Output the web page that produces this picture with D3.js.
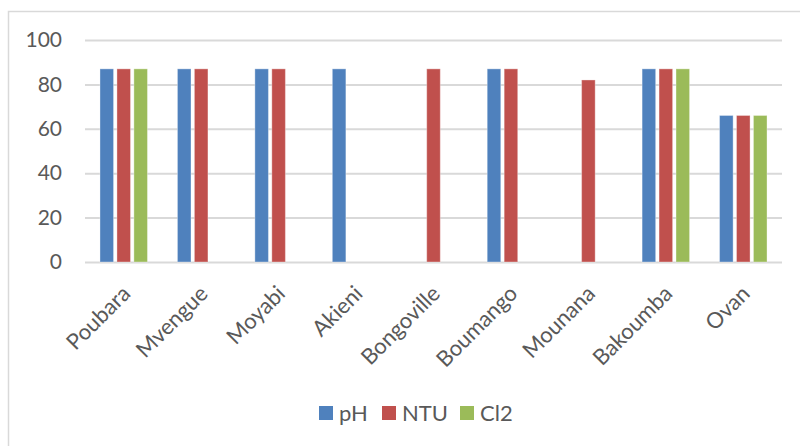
<!DOCTYPE html>
<html><head><meta charset="utf-8">
<script src="https://cdn.jsdelivr.net/npm/d3@7"></script>
<style>html,body{margin:0;padding:0;background:#fff;overflow:hidden}</style>
</head><body>
<svg id="chart" width="800" height="446"></svg>
<script>
const categories = ["Poubara","Mvengue","Moyabi","Akieni","Bongoville","Boumango","Mounana","Bakoumba","Ovan"];
const seriesNames = ["pH","NTU","Cl2"];
const phValues  = [87, 87, 87, 87, null, 87, null, 87, 66];
const ntuValues = [87, 87, 87, null, 87, 87, 82, 87, 66];
const cl2Values = [87, null, null, null, null, null, null, 87, 66];
const yTicks = [0, 20, 40, 60, 80, 100];
const colors = ["#4F81BD", "#C0504D", "#9BBB59"];

(function () {
const seriesValues = [phValues, ntuValues, cl2Values];
const svg = d3.select("#chart");
const font = "Lato, 'Open Sans', sans-serif";
const textColor = "#595959";

// outer border
svg.append("rect").attr("x", 8.5).attr("y", 11.5).attr("width", 820).attr("height", 460)
  .attr("fill", "none").attr("stroke", "#d9d9d9").attr("stroke-width", 1.5);

const mLeft = 85, mRight = 782, mTop = 40, mBottom = 262;
const x0 = d3.scaleBand().domain(categories).range([mLeft, mRight]).paddingInner(0.387).paddingOuter(0.1935);
const x1 = d3.scaleBand().domain(seriesNames).range([0, x0.bandwidth()]).paddingInner(0.2);
const y = d3.scaleLinear().domain([0, 100]).range([mBottom, mTop]);

// gridlines
const yAxis = d3.axisLeft(y).tickValues(yTicks).tickSize(-(mRight - mLeft)).tickPadding(23);
const gy = svg.append("g").attr("transform", `translate(${mLeft},0)`).call(yAxis);
gy.select(".domain").remove();
gy.selectAll(".tick line").attr("stroke", "#d9d9d9").attr("stroke-width", 2);
gy.selectAll(".tick text").attr("fill", textColor).attr("font-family", font).attr("font-size", 21);

// bars
const groups = svg.append("g").selectAll("g").data(categories).join("g")
  .attr("transform", d => `translate(${x0(d)},0)`);
groups.each(function(cat, i) {
  const data = seriesNames.map((s, j) => ({s, j, v: seriesValues[j][i]})).filter(d => d.v != null);
  d3.select(this).selectAll("rect").data(data).join("rect")
    .attr("x", d => x1(d.s))
    .attr("width", x1.bandwidth())
    .attr("y", d => y(d.v))
    .attr("height", d => y(0) - y(d.v))
    .attr("fill", d => colors[d.j])
    .attr("stroke", "rgba(255,255,255,0.35)")
    .attr("stroke-width", 1);
});

// x axis labels
const xAxis = d3.axisBottom(x0).tickSize(0).tickPadding(0);
const gx = svg.append("g").attr("transform", `translate(0,${mBottom})`).call(xAxis);
gx.select(".domain").remove();
gx.selectAll(".tick text")
  .attr("fill", textColor).attr("font-family", font).attr("font-size", 22)
  .attr("text-anchor", "end")
  .attr("dy", 0)
  .attr("y", 0)
  .attr("transform", "translate(8,33) rotate(-45)");

// legend
const legendX = [319, 382, 460];
const lg = svg.append("g").selectAll("g").data(seriesNames).join("g")
  .attr("transform", (d, i) => `translate(${legendX[i]},406)`);
lg.append("rect").attr("width", 14).attr("height", 14).attr("fill", (d, i) => colors[i]);
lg.append("text").attr("x", 20).attr("y", 15).text(d => d)
  .attr("fill", textColor).attr("font-family", font).attr("font-size", 22);
})();
</script>
</body></html>
